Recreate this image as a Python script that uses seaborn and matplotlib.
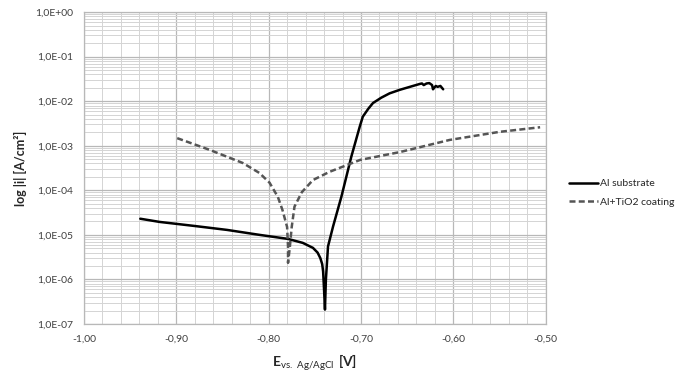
import numpy as np
import pandas as pd
import matplotlib
matplotlib.use("Agg")
import matplotlib.pyplot as plt
import matplotlib.ticker as mticker
import seaborn as sns

# --- DATA ---
e_al = [-0.939, -0.918, -0.880, -0.845, -0.810, -0.779, -0.763, -0.752, -0.747, -0.744,
        -0.742, -0.741, -0.740, -0.739, -0.738, -0.7357, -0.7302, -0.7212, -0.7104, -0.7013,
        -0.698, -0.692, -0.687, -0.678, -0.669, -0.658, -0.647, -0.636, -0.634, -0.632,
        -0.629, -0.626, -0.623, -0.622, -0.619, -0.617, -0.614, -0.611]
i_al = [2.3e-5, 1.95e-5, 1.58e-5, 1.29e-5, 1.0e-5, 8.1e-6, 6.6e-6, 5.1e-6, 4.0e-6, 3.0e-6,
        2.2e-6, 1.5e-6, 6.0e-7, 2.1e-7, 9.8e-7, 5.5e-6, 1.55e-5, 7.2e-5, 5.75e-4, 2.7e-3,
        4.5e-3, 6.8e-3, 9.1e-3, 1.2e-2, 1.5e-2, 1.8e-2, 2.1e-2, 2.45e-2, 2.5e-2, 2.3e-2,
        2.5e-2, 2.55e-2, 2.3e-2, 1.85e-2, 2.2e-2, 2.1e-2, 2.2e-2, 1.85e-2]

e_tio2 = [-0.899, -0.864, -0.828, -0.810, -0.799, -0.790, -0.785, -0.780, -0.779, -0.779,
          -0.777, -0.775, -0.772, -0.764, -0.752, -0.734, -0.715, -0.701, -0.658, -0.604,
          -0.550, -0.506]
i_tio2 = [1.48e-3, 8.1e-4, 4.1e-4, 2.45e-4, 1.48e-4, 7.1e-5, 3.6e-5, 1.5e-5, 5.4e-6, 2.35e-6,
          5.4e-6, 1.5e-5, 4.3e-5, 9.1e-5, 1.7e-4, 2.6e-4, 3.7e-4, 4.8e-4, 7.2e-4, 1.35e-3,
          2.05e-3, 2.6e-3]

series_labels = ["Al substrate", "Al+TiO2 coating"]
x_ticks = [-1.00, -0.90, -0.80, -0.70, -0.60, -0.50]

# --- STYLE ---
sns.set_style("white")
plt.rcParams['font.family'] = ['Lato', 'DejaVu Sans']
plt.rcParams['mathtext.fontset'] = 'custom'
plt.rcParams['mathtext.rm'] = 'Lato'
plt.rcParams['mathtext.bf'] = 'Lato:bold'

fig, ax = plt.subplots(figsize=(6.77, 3.78), dpi=100)
fig.subplots_adjust(left=0.124, right=0.806, bottom=0.143, top=0.968)

df_al = pd.DataFrame({'E': e_al, 'i': i_al})
df_tio2 = pd.DataFrame({'E': e_tio2, 'i': i_tio2})

sns.lineplot(data=df_al, x='E', y='i', sort=False, estimator=None, ax=ax,
             color='black', linewidth=1.8, label=series_labels[0])
sns.lineplot(data=df_tio2, x='E', y='i', sort=False, estimator=None, ax=ax,
             color='#555555', linewidth=1.8, linestyle=(0, (2.4, 1.3)), label=series_labels[1])

ax.set_yscale('log')
ax.set_ylim(1e-7, 1)
ax.set_xlim(-1.0, -0.5)
ax.set_xticks(x_ticks)
ax.xaxis.set_minor_locator(mticker.MultipleLocator(0.02))
ax.yaxis.set_major_locator(mticker.LogLocator(base=10, numticks=10))
ax.yaxis.set_minor_locator(mticker.LogLocator(base=10, subs=np.arange(2, 10), numticks=20))
ax.yaxis.set_minor_formatter(mticker.NullFormatter())

ax.xaxis.set_major_formatter(mticker.FuncFormatter(lambda v, p: f"{v:.2f}".replace('.', ',')))
def sci_fmt(v, p):
    exp = int(round(np.log10(v)))
    sign = '+' if exp >= 0 else '-'
    return f"1,0E{sign}{abs(exp):02d}"
ax.yaxis.set_major_formatter(mticker.FuncFormatter(sci_fmt))

ax.grid(which='major', color='#b8b8b8', linewidth=0.9)
ax.grid(which='minor', color='#d4d4d4', linewidth=0.7)
ax.set_axisbelow(True)
for s in ax.spines.values():
    s.set_color('#b8b8b8')
    s.set_linewidth(0.9)
ax.tick_params(which='both', length=0, labelsize=7.5, colors='#404040', pad=8)

ax.set_ylabel("log |i| [A/cm²]", fontsize=9, fontweight='bold', labelpad=6)
ax.set_xlabel(r"$\mathbf{E}_{\mathrm{vs.\ Ag/AgCl}}\ \mathbf{[V]}$", fontsize=10, labelpad=6)

leg = ax.legend(loc='center left', bbox_to_anchor=(1.03, 0.42), frameon=False,
                fontsize=7.5, handlelength=2.8, handletextpad=0.2, labelspacing=0.9)

fig.savefig('out.png', dpi=100)
